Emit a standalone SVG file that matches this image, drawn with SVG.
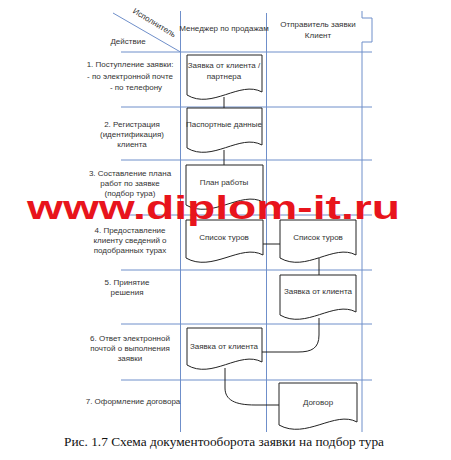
<svg xmlns="http://www.w3.org/2000/svg" width="451" height="460" viewBox="0 0 451 460">
<style>
.grid{stroke:#6f8fca;stroke-width:1;fill:none}
.doc{fill:#fff;stroke:#222;stroke-width:1}
.con{fill:none;stroke:#222;stroke-width:1}
.t{font-family:"Liberation Sans",Arial,sans-serif;font-size:8px;fill:#333;text-anchor:middle}
.cap{font-family:"Liberation Serif","Times New Roman",serif;font-size:13px;fill:#111;text-anchor:middle}
.wm{font-family:"Liberation Sans",Arial,sans-serif;font-size:34px;font-weight:bold;fill:#e8141c}
</style>
<rect width="451" height="460" fill="#fff"/>
<g id="grid" class="grid">
<line x1="113" y1="13" x2="180.5" y2="52"/>
<line x1="180.5" y1="11" x2="180.5" y2="432"/>
<line x1="266.5" y1="13" x2="266.5" y2="432"/>
<path d="M362,11 V18 H372 V42 H362 V432"/>
<line x1="121" y1="52" x2="372" y2="52"/>
<line x1="121" y1="107" x2="372" y2="107"/>
<line x1="121" y1="160" x2="372" y2="160"/>
<line x1="121" y1="215" x2="372" y2="215"/>
<line x1="121" y1="270" x2="372" y2="270"/>
<line x1="121" y1="324" x2="372" y2="324"/>
<line x1="121" y1="380" x2="372" y2="380"/>
</g>
<g id="header">
<text class="t" transform="translate(153,25) rotate(31)">Исполнитель</text>
<text class="t" x="128" y="44">Действие</text>
<text class="t" x="224" y="31">Менеджер по продажам</text>
<text class="t" x="318" y="27">Отправитель заявки</text>
<text class="t" x="318" y="38">Клиент</text>
</g>
<g id="actions">
<text class="t" x="130" y="67">1. Поступление заявки:</text>
<text class="t" x="130" y="79">- по  электронной почте</text>
<text class="t" x="136" y="90">- по телефону</text>
<text class="t" x="132" y="127">2. Регистрация</text>
<text class="t" x="132" y="137">(идентификация)</text>
<text class="t" x="132" y="147">клиента</text>
<text class="t" x="130" y="176">3. Составление плана</text>
<text class="t" x="130" y="186">работ по заявке</text>
<text class="t" x="130" y="196">(подбор тура)</text>
<text class="t" x="130" y="233">4. Предоставление</text>
<text class="t" x="130" y="243">клиенту сведений о</text>
<text class="t" x="130" y="253">подобранных турах</text>
<text class="t" x="127" y="285">5. Принятие</text>
<text class="t" x="127" y="295">решения</text>
<text class="t" x="130" y="341">6. Ответ электронной</text>
<text class="t" x="130" y="351">почтой о выполнения</text>
<text class="t" x="130" y="361">заявки</text>
<text class="t" x="133" y="404">7. Оформление договора</text>
</g>
<g id="connectors" class="con">
<line x1="224" y1="97" x2="224" y2="108"/>
<line x1="224" y1="150" x2="224" y2="165"/>
<line x1="263" y1="244" x2="280" y2="244"/>
<line x1="319" y1="258" x2="319" y2="275"/>
<path d="M319,318 V335 C319,348 312,352 298,352 H262"/>
<path d="M225,368 V388 C225,400 235,405 255,405 H279"/>
</g>
<g id="d1"><path class="doc" d="M187,55 H262 V92 C240,80 212,110 187,95 Z"/>
<text class="t" x="224" y="68">Заявка от клиента /</text><text class="t" x="224" y="79">партнера</text></g>
<g id="d2"><path class="doc" d="M187,108 H262 V145 C240,133 212,163 187,148 Z"/>
<text class="t" x="224" y="127">Паспортные данные</text></g>
<g id="d3"><path class="doc" d="M186,165 H263 V202 C241,190 212,220 186,205 Z"/>
<text class="t" x="224" y="185">План работы</text></g>
<g id="d4a"><path class="doc" d="M186,220 H263 V255 C241,243 212,273 186,258 Z"/>
<text class="t" x="224" y="240">Список туров</text></g>
<g id="d4b"><path class="doc" d="M280,220 H356 V255 C334,243 306,273 280,258 Z"/>
<text class="t" x="318" y="240">Список туров</text></g>
<g id="d5"><path class="doc" d="M280,275 H356 V312 C334,300 306,330 280,315 Z"/>
<text class="t" x="318" y="294">Заявка от клиента</text></g>
<g id="d6"><path class="doc" d="M187,328 H262 V362 C240,350 212,380 187,365 Z"/>
<text class="t" x="224" y="349">Заявка от клиента</text></g>
<g id="d7"><path class="doc" d="M279,383 H357 V422 C335,410 306,440 279,425 Z"/>
<text class="t" x="318" y="405">Договор</text></g>
<text class="wm" x="27" y="219" textLength="373" lengthAdjust="spacingAndGlyphs">www.diplom-it.ru</text>
<text class="cap" x="224" y="446" textLength="320" lengthAdjust="spacingAndGlyphs">Рис. 1.7 Схема документооборота заявки на подбор тура</text>
</svg>
